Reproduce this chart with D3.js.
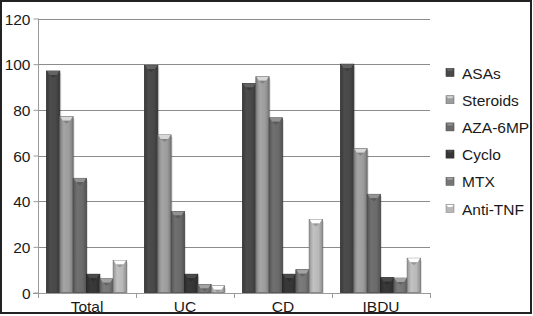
<!DOCTYPE html>
<html>
<head>
<meta charset="utf-8">
<script src="https://cdn.jsdelivr.net/npm/d3@7"></script>
<style>
  body { margin: 0; background: #fff; }
  svg text { font-family: "Liberation Sans", Arial, sans-serif; fill: #1a1a1a; }
</style>
</head>
<body>
<script>
// data
var categories = ["Total", "UC", "CD", "IBDU"];
var series = ["ASAs", "Steroids", "AZA-6MP", "Cyclo", "MTX", "Anti-TNF"];
var asas     = [97, 99.5, 91.5, 100];
var steroids = [77, 69, 94.5, 63];
var aza      = [50, 35.5, 76.5, 43];
var cyclo    = [8, 8, 8, 6.5];
var mtx      = [6, 3.5, 10, 6.3];
var antitnf  = [14, 3, 32, 15];
var yTicks = [0, 20, 40, 60, 80, 100, 120];
var barColors = ["#484848", "#9c9c9c", "#6a6a6a", "#363636", "#767676", "#b8b8b8"];

var values = [asas, steroids, aza, cyclo, mtx, antitnf];

var W = 533, H = 316;
var svg = d3.select("body").append("svg")
    .attr("width", W)
    .attr("height", H);

// outer frame
svg.append("rect")
    .attr("x", 1).attr("y", 1)
    .attr("width", 530).attr("height", 312)
    .style("fill", "#fff")
    .style("stroke", "#222")
    .style("stroke-width", 2);

var x = d3.scaleBand().domain(categories).range([38, 430]);
var xs = d3.scaleBand().domain(series).range([8.5, 88.5]);
var y = d3.scaleLinear().domain([0, 120]).range([292.5, 18.5]);

// gradients for the bevelled bars
var defs = svg.append("defs");
barColors.forEach(function (c, i) {
    var g = defs.append("linearGradient").attr("id", "g" + i)
        .attr("x1", "0").attr("x2", "1").attr("y1", "0").attr("y2", "0");
    var base = d3.color(c);
    g.append("stop").attr("offset", "0%").attr("stop-color", base.darker(0.6));
    g.append("stop").attr("offset", "30%").attr("stop-color", base.brighter(0.15));
    g.append("stop").attr("offset", "70%").attr("stop-color", base);
    g.append("stop").attr("offset", "100%").attr("stop-color", base.darker(0.7));
});

// gridlines
svg.append("g").selectAll("line")
    .data(yTicks.slice(1))
    .enter().append("line")
    .attr("x1", 38).attr("x2", 430)
    .attr("y1", function (d) { return Math.round(y(d)) + 0.5; })
    .attr("y2", function (d) { return Math.round(y(d)) + 0.5; })
    .style("stroke", "#8c8c8c");

// y axis
var yAxis = d3.axisLeft(y).tickValues(yTicks).tickSize(5).tickPadding(3);
var ya = svg.append("g").attr("transform", "translate(38.5,0)").call(yAxis);
ya.select(".domain").attr("d", "M0," + (y(120)) + "V297").style("stroke", "#9a9a9a");
ya.selectAll(".tick line").style("stroke", "#9a9a9a");
ya.selectAll(".tick text")
    .style("font-size", "15.5px")
    .attr("dy", "0.36em");

// bars
var groups = svg.append("g").selectAll("g")
    .data(categories)
    .enter().append("g")
    .attr("transform", function (d) { return "translate(" + x(d) + ",0)"; });

groups.each(function (cat, ci) {
    var g = d3.select(this);
    var bw = xs.bandwidth();
    series.forEach(function (s, si) {
        var v = values[si][ci];
        var bx = xs(s), by = y(v), bh = y(0) - y(v);
        // soft shadow on the right
        g.append("rect")
            .attr("x", bx + 1.5).attr("y", by + 2)
            .attr("width", bw).attr("height", bh - 1)
            .style("fill", "#000").style("opacity", 0.12);
        g.append("rect")
            .attr("x", bx).attr("y", by)
            .attr("width", bw).attr("height", bh)
            .style("fill", "url(#g" + si + ")")
            .style("stroke", d3.color(barColors[si]).darker(1.2))
            .style("stroke-width", 0.8);
        // bevel on the top
        var capH = Math.min(4, bh);
        g.append("path")
            .attr("d", "M" + (bx + 0.5) + "," + by + "L" + (bx + bw - 0.5) + "," + by +
                "L" + (bx + bw - 3) + "," + (by + capH) + "L" + (bx + 3) + "," + (by + capH) + "Z")
            .style("fill", d3.color(barColors[si]).brighter(0.9));
        g.append("path")
            .attr("d", "M" + (bx + 3) + "," + (by + capH) + "L" + (bx + bw - 3) + "," + (by + capH) +
                "L" + (bx + bw / 2) + "," + (by + capH + 3) + "Z")
            .style("fill", d3.color(barColors[si]).darker(0.5));
    });
});

// x axis
var xAxis = d3.axisBottom(x).tickSize(0).tickPadding(7);
var xa = svg.append("g").attr("transform", "translate(0,293.5)").call(xAxis);
xa.select(".domain").attr("d", "M33,0H430").style("stroke", "#9a9a9a");
xa.selectAll(".tick text").style("font-size", "15.5px").attr("dy", "0.71em");
svg.append("g").selectAll("line")
    .data(categories.concat(["end"]))
    .enter().append("line")
    .attr("x1", function (d, i) { return i < categories.length ? Math.round(x(d)) + 0.5 : 430.5; })
    .attr("x2", function (d, i) { return i < categories.length ? Math.round(x(d)) + 0.5 : 430.5; })
    .attr("y1", 293).attr("y2", 298)
    .style("stroke", "#9a9a9a");

// legend
var legend = svg.append("g").selectAll("g")
    .data(series)
    .enter().append("g")
    .attr("transform", function (d, i) { return "translate(446," + (73 + i * 27.2) + ")"; });
legend.append("rect")
    .attr("x", 0).attr("y", -4.5)
    .attr("width", 8).attr("height", 8)
    .style("fill", function (d, i) { return barColors[i]; })
    .style("stroke", function (d, i) { return d3.color(barColors[i]).darker(0.8); })
    .style("stroke-width", 0.6);
legend.append("path")
    .attr("d", "M0.5,-4L7.5,-4L6,-2L2,-2Z")
    .style("fill", function (d, i) { return d3.color(barColors[i]).brighter(0.9); });
legend.append("text")
    .attr("x", 16).attr("y", 0).attr("dy", "0.36em")
    .style("font-size", "15.5px")
    .text(function (d) { return d; });
</script>
</body>
</html>
